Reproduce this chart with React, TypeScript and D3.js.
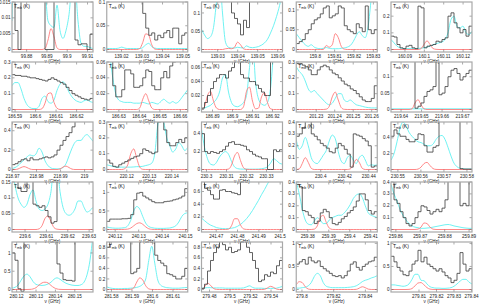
import React from 'react';
import * as d3 from 'd3';

const W = 479, H = 305;
const colLeft = [12, 106.75, 201.5, 296.25, 391];
const rowTop = [2, 62, 122, 182, 242];
const PW = 81, PH = 50;

// x windows (GHz), row by row
const xDomains = [
  [99.8728, 99.9127], [139.0128, 139.0523], [139.0219, 139.0624], [159.7902, 159.832], [160.0828, 160.1246],
  [186.5885, 186.628], [186.6241, 186.6636], [186.8845, 186.925], [201.2192, 201.263], [219.6351, 219.6746],
  [218.9698, 219.0035], [220.1111, 220.1471], [230.2975, 230.338], [230.3796, 230.4471], [230.547, 230.5822],
  [239.5939, 239.6318], [240.1164, 240.1509], [241.4631, 241.5011], [259.3745, 259.4131], [259.858, 259.8912],
  [280.1176, 280.1594], [281.5777, 281.6172], [279.4722, 279.5512], [279.7964, 279.8475], [279.794, 279.8403],
];
const xTicks = [
  [99.88, 99.89, 99.9, 99.91], [139.02, 139.03, 139.04, 139.05], [139.03, 139.04, 139.05, 139.06], [159.8, 159.81, 159.82, 159.83], [160.09, 160.1, 160.11, 160.12],
  [186.59, 186.6, 186.61, 186.62], [186.63, 186.64, 186.65, 186.66], [186.89, 186.9, 186.91, 186.92], [201.23, 201.24, 201.25, 201.26], [219.64, 219.65, 219.66, 219.67],
  [218.97, 218.98, 218.99, 219], [220.12, 220.13, 220.14], [230.3, 230.31, 230.32, 230.33], [230.4, 230.42, 230.44], [230.55, 230.56, 230.57, 230.58],
  [239.6, 239.61, 239.62, 239.63], [240.12, 240.13, 240.14, 240.15], [241.47, 241.48, 241.49, 241.5], [259.38, 259.39, 259.4, 259.41], [259.86, 259.87, 259.88, 259.89],
  [280.12, 280.13, 280.14, 280.15], [281.58, 281.59, 281.6, 281.61], [279.48, 279.5, 279.52, 279.54], [279.8, 279.82, 279.84], [279.81, 279.82, 279.83, 279.84],
];
const yMaxes = [
  0.015, 0.1, 0.13, 0.12, 0.285,
  0.3, 0.06, 0.068, 0.3, 0.145,
  0.49, 0.3, 0.53, 0.4, 0.6,
  0.15, 1.28, 0.75, 0.4, 0.4,
  1.3, 0.9, 0.9, 1.03, 1.03,
];
const yTicks = [
  [0, 0.005, 0.01, 0.015], [0, 0.05, 0.1], [0, 0.05, 0.1], [0, 0.05, 0.1], [0, 0.1, 0.2],
  [0, 0.1, 0.2, 0.3], [0, 0.02, 0.04, 0.06], [0, 0.02, 0.04, 0.06], [0, 0.1, 0.2, 0.3], [0, 0.05, 0.1],
  [0, 0.2, 0.4], [0, 0.1, 0.2, 0.3], [0, 0.2, 0.4], [0, 0.1, 0.2, 0.3, 0.4], [0, 0.2, 0.4],
  [0, 0.05, 0.1, 0.15], [0, 0.5, 1], [0, 0.2, 0.4, 0.6], [0, 0.1, 0.2, 0.3, 0.4], [0, 0.1, 0.2, 0.3, 0.4],
  [0, 0.5, 1], [0, 0.2, 0.4, 0.6, 0.8], [0, 0.2, 0.4, 0.6, 0.8], [0, 0.5, 1], [0, 0.5, 1],
];

// observed spectra (K per channel)
const observed = [
  [0.03,0.006,0,0.03,0.03,0.03,0.03,0.03,0.03,0.03,0.03,0,0,0,0.03,0.03,0.03,0.03,0.03,0.03,0.03,0.003,0.0015,0.0018,0.0018,0,0.0048],
  [0.2,0.2,0.2,0.2,0.2,0.2,0.2,0.2,0.2,0.2,0.2,0.2,0.076,0.045,0.03,0.035,0.02,0.03,0.025,0.035,0.04,0.025,0.045,0.045,0.012,0.03,0.035],
  [0.26,0.26,0.26,0.26,0.26,0.26,0.26,0.26,0.26,0.26,0.1,0.085,0.07,0.04,0.08,0.06,0.26,0.26,0.26,0.26,0.26,0.26,0.26,0.26,0.26,0.26,0.26],
  [0.015,0.02,0.025,0.04,0.05,0.065,0.075,0.08,0.09,0.105,0.11,0.08,0.085,0.09,0.11,0.105,0.06,0.05,0.045,0.04,0.065,0.055,0.045,0.11,0.05,0.04,0.05],
  [0.08,0.075,0.03,0.01,0.005,0.02,0.025,0.01,0.005,0.26,0.25,0.01,0.02,0.025,0.03,0.05,0.045,0.06,0.07,0.2,0.22,0.16,0.13,0.1,0.12,0.08,0.14],
  [0.22,0.215,0.215,0.21,0.21,0.205,0.2,0.2,0.195,0.19,0.185,0.18,0.19,0.2,0.19,0.18,0.17,0.16,0.14,0.12,0.1,0.09,0.08,0.07,0.065,0.06,0.07],
  [0.12,0.12,0.03,0.016,0.016,0.025,0.05,0.05,0.045,0.028,0.028,0.03,0.04,0.05,0.048,0.03,0.025,0.025,0.04,0.048,0.04,0.055,0.06,0.07,0.08,0.08,0.1],
  [0.002,0.01,0.02,0.03,0.04,0.045,0.05,0.05,0.045,0.055,0.06,0.09,0.07,0.05,0.045,0.045,0.04,0.04,0.035,0.03,0.025,0.02,0.02,0.14,0.14,0.14,0.14],
  [0.29,0.29,0.28,0.27,0.25,0.22,0.22,0.25,0.27,0.28,0.27,0.25,0.23,0.22,0.2,0.18,0.16,0.15,0.13,0.12,0.1,0.08,0.06,0.05,0.05,0.07,0.15],
  [0.3,0.3,0.3,0.3,0.3,0.3,0.3,0.3,0.004,0.01,0.02,0.04,0.055,0.06,0.07,0.3,0.045,0.05,0.07,0.1,0.12,0.125,0.11,0.09,0.1,0.11,0.12],
  [0.05,0.06,0.08,0.1,0.11,0.09,0.12,0.1,0.1,0.11,0.12,0.13,0.12,0.13,0.15,0.2,0.25,0.3,0.34,0.38,0.44,0.5,1,1,1,1,1],
  [0.06,0.04,0.02,0.015,0.03,0.04,0.05,0.06,0.07,0.08,0.085,0.1,0.13,0.12,0.11,0.1,0.11,0.3,0.31,0.25,0.17,0.15,0.15,0.17,0.19,0.17,0.2],
  [0.4,0.2,0.18,0.2,0.19,0.18,0.2,0.22,0.26,0.3,0.31,0.28,0.28,0.27,0.26,0.22,0.2,0.17,0.15,0.14,0.12,0.12,0,0,0.22,0.2,0.22],
  [0.28,0.3,0.35,0.8,0.8,0.3,0.28,0.25,0.22,0.2,0.18,0.15,0.14,0.18,0.22,0.2,0.17,0.13,0.02,0.3,0.29,0.28,0.26,0.24,0.2,0.02,0.03],
  [0.42,0.5,0.45,0.42,0.42,0.38,0.35,0.35,0.38,0.45,0.44,0.3,0.22,0.22,0.28,0.3,1.2,1.2,1.2,1.2,1.2,1.2,1.2,0.01,0.005,0.005,0.005],
  [0.3,0.3,0.13,0.12,0.12,0.3,0.3,0.08,0.075,0.07,0.075,0.06,0.04,0.02,0.025,0.3,0.3,0.3,0.3,0.3,0.3,0.3,0.3,0.3,0.3,0.3,0.3],
  [0.22,0.28,0.28,0.28,0.28,0.29,0.29,0.3,0.4,0.8,0.98,1.0,0.9,0.85,0.8,0.75,0.72,0.72,0.72,0.75,0.76,0.77,0.8,0.82,0.85,0.9,1.1],
  [1.5,0.65,0.62,0.55,0.48,0.48,0.62,0.63,0.6,0.6,0.58,0.57,0.55,1.5,1.5,1.5,1.5,1.5,1.5,1.5,1.5,1.5,1.5,1.5,1.5,1.5,1.5],
  [0.38,0.36,0.16,0.15,0.12,0.1,0.05,0.07,0.14,0.17,0.15,0.1,0.05,0.04,0.06,0.09,0.11,0.14,0.16,0.19,0.24,0.3,0.3,0.25,0.16,0.13,0.15],
  [0.8,0.25,0.22,0.15,0.1,0.05,0.03,0.05,0.1,0.15,0.2,0.19,0.16,0.13,0.15,0.17,0.15,0.18,0.25,0.8,0.8,0.8,0.8,0.2,0.22,0.2,0.8],
  [1.0,0.8,0.02,-0.05,2.6,2.6,2.6,2.6,2.6,2.6,2.6,2.6,2.6,2.6,2.6,0.7,0.45,0.27,0.25,0.25,0.23,2.6,2.6,2.6,2.6,2.6,2.6],
  [0.8,1.8,1.8,1.8,1.8,1.8,1.8,1.8,0.3,0.33,0.4,1.8,1.8,1.8,1.8,1.8,0.65,0.55,0.5,0.45,0.3,0.28,0.25,0.2,0.2,0.25,0.4],
  [0.02,0.1,0.35,0.55,0.7,0.8,1.8,0.85,0.75,0.8,0.7,0.72,0.75,1.8,1.8,0.8,0.7,0.55,0.4,0.15,0.18,0.28,0.25,0.33,0.3,0.45,0.55],
  [0.55,0.6,0.65,0.55,0.7,0.62,0.58,0.62,0.5,0.45,0.4,0.35,0.3,0.28,0.3,0.25,0.3,0.4,0.55,0.6,0.48,0.42,0.5,0.55,0.6,0.62,0.7],
  [0.72,0.6,0.48,0.4,0.32,0.3,0.4,0.55,0.62,0.85,0.6,0.7,0.55,0.5,0.45,0.4,0.45,0.38,0.3,0.25,0.15,0.2,0.35,0.8,0.55,0.4,0.45],
];

// cyan model (K, evenly sampled across each window)
const modelCyan = [
  [0.009,0.03,0.03,0.03,0.03,0.03,0.03,0.03,0.03,0.03,0.03,0.02,0.009,0.0075,0.007,0.014,0.006,0.0035,0.006,0.011,0.02,0.02,0.009,0.002,0.001,0.001,0.0006,0.0003],
  [0.002,0.002,0.002,0.002,0.003,0.005,0.003,0.002,0.002,0.002,0.002,0.002,0.004,0.01,0.013,0.006,0.003,0.002,0.002,0.002,0.002,0.002,0.002,0.002,0.002,0.002,0.002,0.002],
  [0.055,0.04,0.03,0.035,0.06,0.13,0.2,0.1,0.02,0.006,0.004,0.004,0.006,0.005,0.004,0.01,0.006,0.005,0.006,0.008,0.012,0.018,0.028,0.045,0.065,0.09,0.12,0.16],
  [0.04,0.03,0.02,0.012,0.008,0.012,0.006,0.003,0.002,0.003,0.005,0.003,0.002,0.002,0.002,0.003,0.004,0.006,0.01,0.02,0.035,0.045,0.035,0.03,0.06,0.13,0.2,0.3],
  [0.06,0.04,0.02,0.01,0.006,0.005,0.005,0.005,0.005,0.006,0.008,0.01,0.015,0.02,0.028,0.035,0.04,0.045,0.06,0.1,0.18,0.2,0.14,0.13,0.14,0.1,0.09,0.11],
  [0.15,0.17,0.17,0.13,0.07,0.03,0.012,0.006,0.006,0.02,0.07,0.085,0.05,0.04,0.06,0.12,0.16,0.175,0.15,0.11,0.08,0.06,0.05,0.045,0.055,0.06,0.05,0.045],
  [0.1,0.07,0.04,0.02,0.012,0.01,0.009,0.009,0.009,0.008,0.008,0.008,0.009,0.008,0.007,0.009,0.008,0.007,0.01,0.013,0.01,0.008,0.01,0.008,0.01,0.015,0.02,0.025],
  [0.001,0.002,0.004,0.006,0.01,0.015,0.025,0.045,0.05,0.025,0.01,0.005,0.004,0.006,0.01,0.02,0.06,0.1,0.04,0.015,0.008,0.006,0.01,0.03,0.08,0.12,0.1,0.08],
  [0.27,0.24,0.22,0.18,0.13,0.11,0.12,0.1,0.08,0.06,0.04,0.03,0.04,0.07,0.1,0.1,0.06,0.05,0.06,0.045,0.03,0.025,0.02,0.015,0.012,0.01,0.01,0.01],
  [0.002,0.002,0.002,0.002,0.002,0.002,0.002,0.002,0.002,0.002,0.002,0.002,0.002,0.002,0.002,0.002,0.002,0.002,0.002,0.002,0.002,0.002,0.002,0.002,0.002,0.002,0.002,0.002],
  [0.01,0.02,0.04,0.07,0.1,0.13,0.15,0.14,0.16,0.22,0.18,0.09,0.04,0.015,0.008,0.006,0.008,0.02,0.06,0.14,0.22,0.28,0.3,0.3,0.34,0.36,0.33,0.29],
  [0.03,0.025,0.02,0.015,0.015,0.015,0.015,0.015,0.015,0.016,0.018,0.018,0.02,0.025,0.03,0.04,0.1,0.28,0.35,0.3,0.2,0.15,0.11,0.13,0.17,0.15,0.12,0.14],
  [0.45,0.25,0.12,0.06,0.05,0.08,0.14,0.18,0.2,0.17,0.09,0.03,0.01,0.005,0.004,0.004,0.004,0.004,0.004,0.005,0.008,0.015,0.03,0.07,0.12,0.1,0.07,0.06],
  [0.25,0.17,0.2,0.27,0.2,0.1,0.06,0.05,0.08,0.12,0.16,0.24,0.29,0.26,0.15,0.07,0.05,0.1,0.12,0.08,0.05,0.1,0.12,0.08,0.03,0.04,0.035,0.04],
  [0.12,0.2,0.35,0.52,0.6,0.55,0.47,0.42,0.38,0.35,0.34,0.32,0.3,0.3,0.32,0.38,0.42,0.43,0.38,0.28,0.17,0.08,0.035,0.015,0.008,0.005,0.005,0.005],
  [0.2,0.14,0.1,0.08,0.07,0.08,0.11,0.125,0.09,0.065,0.06,0.065,0.08,0.12,0.2,0.2,0.12,0.07,0.05,0.045,0.05,0.065,0.09,0.09,0.07,0.055,0.06,0.07],
  [0.07,0.05,0.04,0.035,0.035,0.04,0.05,0.1,0.25,0.5,0.62,0.55,0.35,0.17,0.08,0.05,0.035,0.03,0.03,0.03,0.035,0.04,0.06,0.1,0.2,0.35,0.43,0.45],
  [0.18,0.14,0.1,0.07,0.05,0.03,0.02,0.015,0.012,0.015,0.02,0.03,0.05,0.08,0.12,0.17,0.23,0.3,0.38,0.46,0.55,0.63,0.72,0.8,0.9,1.0,1.1,1.2],
  [0.4,0.3,0.17,0.08,0.045,0.04,0.07,0.1,0.08,0.05,0.05,0.08,0.1,0.11,0.12,0.12,0.14,0.17,0.21,0.26,0.29,0.3,0.27,0.2,0.14,0.12,0.11,0.1],
  [0.38,0.3,0.24,0.17,0.12,0.08,0.05,0.03,0.02,0.015,0.01,0.01,0.012,0.015,0.02,0.025,0.03,0.035,0.04,0.042,0.038,0.03,0.025,0.02,0.015,0.012,0.01,0.01],
  [0.04,0.06,0.12,0.25,0.37,0.42,0.35,0.22,0.14,0.12,0.11,0.12,0.15,0.2,0.28,0.32,0.28,0.22,0.17,0.14,0.12,0.11,0.11,0.13,0.2,0.4,0.8,1.5],
  [0.05,0.03,0.02,0.015,0.015,0.015,0.02,0.02,0.025,0.03,0.04,0.06,0.1,0.2,0.55,0.82,0.5,0.18,0.08,0.05,0.035,0.03,0.025,0.025,0.025,0.03,0.035,0.04],
  [0.03,0.03,0.035,0.035,0.03,0.03,0.03,0.03,0.025,0.025,0.025,0.025,0.025,0.025,0.03,0.05,0.07,0.04,0.025,0.025,0.025,0.02,0.02,0.02,0.02,0.025,0.04,0.06],
  [0.03,0.03,0.04,0.05,0.08,0.15,0.28,0.35,0.3,0.15,0.07,0.05,0.04,0.04,0.04,0.04,0.04,0.045,0.05,0.06,0.08,0.12,0.17,0.2,0.22,0.25,0.27,0.3],
  [0.1,0.1,0.09,0.08,0.07,0.08,0.12,0.22,0.33,0.33,0.2,0.19,0.12,0.06,0.04,0.03,0.03,0.025,0.025,0.03,0.04,0.07,0.12,0.18,0.22,0.22,0.16,0.12],
];

// red fitted line (K, evenly sampled across each window)
const modelRed = [
  [0,0,0,0,0,0,0,0,0,0,0,0.0003,0.003,0.0066,0.004,0.0005,0,0,0,0,0,0,0,0,0,0,0,0],
  [0,0,0,0,0,0,0,0,0,0,0,0.002,0.015,0.033,0.03,0.01,0.001,0,0,0,0,0,0,0,0,0,0,0],
  [0,0,0,0,0,0,0,0,0.002,0.003,0.002,0.006,0.02,0.013,0.002,0,0,0,0,0,0,0,0,0,0,0,0,0],
  [0,0,0,0,0,0,0,0,0,0,0.01,0.006,0.012,0.04,0.03,0.008,0.001,0,0,0,0,0,0,0,0,0,0,0],
  [0,0,0,0,0,0,0,0,0,0,0.005,0.03,0.052,0.03,0.006,0.001,0,0,0,0,0,0,0,0,0,0,0,0],
  [0,0,0,0,0,0,0,0,0,0,0.005,0.04,0.1,0.105,0.045,0.008,0,0,0,0,0,0,0,0,0,0,0,0],
  [0,0,0,0,0,0,0,0,0,0,0,0.002,0.013,0.02,0.011,0.002,0,0,0,0,0,0,0,0,0,0,0,0],
  [0,0.004,0.02,0.026,0.012,0.002,0,0,0,0,0,0,0,0,0.004,0.026,0.032,0.012,0.001,0.002,0.018,0.024,0.01,0.001,0,0,0,0],
  [0,0,0,0,0,0,0,0,0,0,0.002,0.02,0.08,0.11,0.06,0.012,0.001,0,0,0,0,0,0,0,0,0,0,0],
  [0,0,0,0,0,0,0,0.002,0.02,0.03,0.015,0.002,0,0,0,0,0,0,0,0,0,0,0,0,0,0,0,0],
  [0,0,0.005,0.02,0.03,0.02,0.005,0,0,0,0,0,0,0,0,0,0.005,0.025,0.035,0.02,0.004,0,0,0,0,0,0,0],
  [0,0,0,0,0,0,0.005,0.03,0.1,0.13,0.07,0.015,0.001,0,0,0,0,0,0,0,0,0,0,0,0,0,0,0],
  [0,0,0,0,0,0,0,0,0,0.005,0.05,0.15,0.19,0.1,0.02,0.002,0,0,0,0,0,0,0,0,0,0,0,0],
  [0,0.005,0.05,0.1,0.06,0.01,0,0,0,0,0,0,0,0,0,0,0,0,0.005,0.04,0.085,0.06,0.01,0,0,0,0,0],
  [0,0,0,0,0,0,0,0,0,0.005,0.03,0.075,0.09,0.05,0.012,0.001,0,0,0,0,0,0,0,0,0,0,0,0],
  [0,0,0,0,0,0,0,0,0,0.002,0.012,0.035,0.043,0.025,0.006,0.001,0,0,0,0,0,0,0,0,0,0,0,0],
  [0,0,0,0,0,0,0.003,0.01,0.04,0.1,0.16,0.18,0.14,0.07,0.02,0.004,0,0,0,0,0,0,0,0,0,0,0,0],
  [0,0,0,0,0,0,0,0,0,0.005,0.06,0.17,0.17,0.07,0.01,0.001,0,0,0,0,0,0,0,0,0,0,0,0],
  [0,0,0,0,0,0,0.003,0.03,0.1,0.12,0.06,0.012,0.001,0,0,0,0,0,0,0,0,0,0,0,0,0,0,0],
  [0,0,0,0,0,0,0,0,0,0.003,0.02,0.055,0.05,0.02,0.003,0,0,0,0,0,0,0,0,0,0,0,0,0],
  [0,0,0,0,0,0,0.003,0.015,0.05,0.12,0.18,0.2,0.18,0.11,0.05,0.015,0.003,0,0,0,0,0,0,0,0,0,0,0],
  [0,0,0,0,0,0,0,0,0.003,0.03,0.14,0.22,0.18,0.07,0.012,0.001,0,0,0,0,0,0,0,0,0,0,0,0],
  [0.003,0.05,0.12,0.08,0.02,0.002,0,0,0,0,0,0,0,0,0,0,0,0,0,0,0,0.003,0.03,0.06,0.04,0.008,0,0],
  [0.1,0.17,0.15,0.06,0.01,0.001,0,0,0,0,0,0,0,0,0,0,0,0,0,0,0.003,0.03,0.06,0.04,0.008,0,0,0],
  [0,0,0,0,0,0,0.003,0.02,0.08,0.14,0.15,0.1,0.04,0.008,0.001,0,0,0,0,0,0,0,0,0,0,0,0,0],
];

const FONT = 'Liberation Sans, Arial, sans-serif';
const FS = 4.6;

function Panel({ k }: { k: number }) {
  const r = Math.floor(k / 5), c = k % 5;
  const L = colLeft[c], T = rowTop[r];
  const [a, b] = xDomains[k];
  const ym = yMaxes[k];
  const x = d3.scaleLinear().domain([a, b]).range([L, L + PW]);
  const y = d3.scaleLinear().domain([-ym * 2.5 / 47.5, ym]).range([T + PH, T]);

  const hist = observed[k];
  const n = hist.length;
  const hPts: [number, number][] = hist.map((v, i) => [a + (b - a) * i / n, v]);
  hPts.push([b, hist[n - 1]]);
  const stepLine = d3.line<[number, number]>().x(d => x(d[0])).y(d => y(d[1])).curve(d3.curveStepAfter);

  const smooth = d3.line<[number, number]>().x(d => x(d[0])).y(d => y(d[1])).curve(d3.curveMonotoneX);
  const cy = modelCyan[k];
  const cPts: [number, number][] = cy.map((v, i) => [a + (b - a) * i / (cy.length - 1), v]);
  const rd = modelRed[k];
  const rPts: [number, number][] = rd.map((v, i) => [a + (b - a) * i / (rd.length - 1), v]);

  const clipId = `clip${k}`;
  const tl = 2.5;
  return (
    <g>
      <clipPath id={clipId}><rect x={L} y={T} width={PW} height={PH} /></clipPath>
      <g clipPath={`url(#${clipId})`}>
        <path d={smooth(cPts) || ''} fill="none" stroke="#5ff0f0" strokeWidth={0.9} />
        <path d={smooth(rPts) || ''} fill="none" stroke="#ff7a7a" strokeWidth={0.9} />
        <path d={stepLine(hPts) || ''} fill="none" stroke="#3a3a3a" strokeWidth={0.8} />
      </g>
      {xTicks[k].map(t => (
        <g key={'x' + t}>
          <line x1={x(t)} x2={x(t)} y1={T + PH} y2={T + PH - tl} stroke="#555" strokeWidth={0.5} />
          <line x1={x(t)} x2={x(t)} y1={T} y2={T + tl} stroke="#555" strokeWidth={0.5} />
          <text x={x(t)} y={T + PH + 6.3} fontSize={FS} textAnchor="middle" fontFamily={FONT} fill="#222">{String(t)}</text>
        </g>
      ))}
      {yTicks[k].map(t => (
        <g key={'y' + t}>
          <line x1={L} x2={L + tl} y1={y(t)} y2={y(t)} stroke="#555" strokeWidth={0.5} />
          <line x1={L + PW} x2={L + PW - tl} y1={y(t)} y2={y(t)} stroke="#555" strokeWidth={0.5} />
          <text x={L - 1.5} y={y(t) + 1.6} fontSize={FS} textAnchor="end" fontFamily={FONT} fill="#222">{String(t)}</text>
        </g>
      ))}
      <rect x={L} y={T} width={PW} height={PH} fill="none" stroke="#a8a8a8" strokeWidth={1.2} />
      <text x={L + PW / 2} y={T + PH + 11.2} fontSize={FS} textAnchor="middle" fontFamily={FONT} fill="#222">ν (GHz)</text>
      <text x={L + 2} y={T + 6} fontSize={5} fontFamily={FONT} fill="#111">
        <tspan>T</tspan>
        <tspan fontSize={3.4} dy={1}>mb</tspan>
        <tspan dy={-1}> (K)</tspan>
      </text>
    </g>
  );
}

export default function App() {
  return (
    <svg width={W} height={H} viewBox={`0 0 ${W} ${H}`} style={{ position: 'absolute', left: 0, top: 0, background: '#fff' }}>
      <rect x={0} y={0} width={W} height={H} fill="#fff" />
      {d3.range(25).map(k => <Panel key={k} k={k} />)}
    </svg>
  );
}
